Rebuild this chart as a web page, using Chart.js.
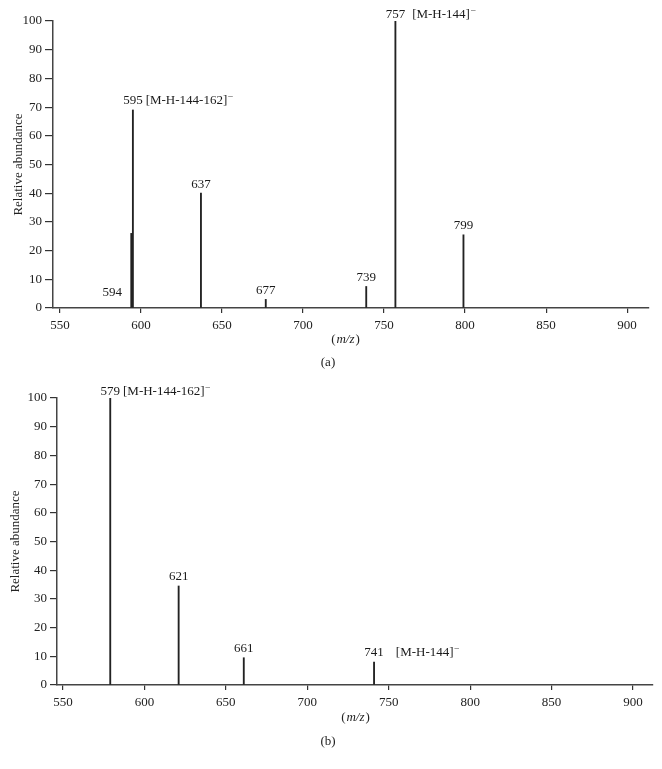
<!DOCTYPE html>
<html>
<head>
<meta charset="utf-8">
<script src="https://cdn.jsdelivr.net/npm/chart.js@4.4.0/dist/chart.umd.min.js"></script>
<style>
  html, body { margin: 0; padding: 0; background: #fff; }
  #wrap { position: relative; width: 662px; height: 769px; }
  canvas { position: absolute; left: 0; }
  #chartA { top: 0; }
  #chartB { top: 380px; }
</style>
</head>
<body>
<div id="wrap">
  <canvas id="chartA" width="662" height="380"></canvas>
  <canvas id="chartB" width="662" height="389"></canvas>
</div>
<script>
// panel (a)
var mzA = [594, 595, 637, 677, 739, 757, 799];
var abundA = [26, 69, 40, 3, 7.5, 100, 25.5];
var ionA = ['', '[M-H-144-162]', '', '', '', '[M-H-144]', ''];

// panel (b)
var mzB = [579, 621, 661, 741];
var abundB = [100, 34.5, 9.5, 8];
var ionB = ['[M-H-144-162]', '', '', '[M-H-144]'];

var xTicks = [550, 600, 650, 700, 750, 800, 850, 900];
var yTicks = [0, 10, 20, 30, 40, 50, 60, 70, 80, 90, 100];

var SERIF = '"Liberation Serif", "Times New Roman", serif';
Chart.defaults.font.family = SERIF;
Chart.defaults.font.size = 13;
Chart.defaults.color = '#222';

// peak numbers above each stem, ion names beside them
var peakLabels = {
    id: 'peakLabels',
    afterDatasetsDraw: function (chart, args, opts) {
        var ctx = chart.ctx, xs = chart.scales.x, ys = chart.scales.y;
        var pts = chart.data.datasets[0].data;
        ctx.save();
        ctx.fillStyle = '#1a1a1a';
        ctx.textBaseline = 'middle';
        pts.forEach(function (p, i) {
            var px = xs.getPixelForValue(p.x), py = ys.getPixelForValue(p.y);
            var txt = String(p.x);
            ctx.font = '13px ' + SERIF;
            var w = ctx.measureText(txt).width;
            var cx = px, cy = Math.max(py - 9, chart.chartArea.top - 6);
            if (opts.beside.indexOf(p.x) >= 0) {
                cx = px - 19;
                cy = ys.getPixelForValue(0) - 15;
            }
            ctx.textAlign = 'center';
            ctx.fillText(txt, cx, cy);
            var ion = opts.ions[i];
            if (ion) {
                var ix = cx + w / 2 + opts.gap[i];
                ctx.textAlign = 'left';
                ctx.fillText(ion, ix, cy);
                var iw = ctx.measureText(ion).width;
                ctx.font = '9px ' + SERIF;
                ctx.fillText('\u2013', ix + iw + 1, cy - 5);
            }
        });
        ctx.restore();
    }
};

// "(m/z)" axis name and panel caption
var captions = {
    id: 'captions',
    afterDraw: function (chart, args, opts) {
        var ctx = chart.ctx;
        ctx.save();
        ctx.fillStyle = '#222';
        ctx.textBaseline = 'middle';
        ctx.textAlign = 'left';
        var parts = [['(', ''], ['m/z', 'italic '], [')', '']];
        var total = 0;
        parts.forEach(function (s) {
            ctx.font = s[1] + '13px ' + SERIF;
            total += ctx.measureText(s[0]).width + 1;
        });
        var x = opts.mzX - total / 2;
        parts.forEach(function (s) {
            ctx.font = s[1] + '13px ' + SERIF;
            ctx.fillText(s[0], x, opts.mzY);
            x += ctx.measureText(s[0]).width + 1;
        });
        ctx.font = '13px ' + SERIF;
        ctx.textAlign = 'center';
        ctx.fillText(opts.text, opts.capX, opts.capY);
        ctx.restore();
    }
};

function spectrum(id, mz, abund, ions, look) {
    var ctx = document.getElementById(id).getContext('2d');
    return new Chart(ctx, {
        type: 'bar',
        data: {
            datasets: [{
                data: mz.map(function (m, i) { return {x: m, y: abund[i]}; }),
                backgroundColor: '#222',
                borderWidth: 0,
                barThickness: 1.2
            }]
        },
        options: {
            responsive: false,
            animation: false,
            layout: {padding: look.padding},
            plugins: {
                legend: {display: false},
                tooltip: {enabled: false},
                peakLabels: {ions: ions, gap: look.gap, beside: look.beside},
                captions: look.captions
            },
            scales: {
                x: {
                    type: 'linear',
                    min: look.xMin,
                    max: look.xMax,
                    offset: false,
                    afterBuildTicks: function (s) { s.ticks = xTicks.map(function (v) { return {value: v}; }); },
                    afterFit: function (s) { s.height = look.xHeight; },
                    grid: {offset: false, drawOnChartArea: false, drawTicks: true, tickLength: 5, color: '#333', lineWidth: 1.2},
                    border: {display: true, color: '#444', width: 1.5},
                    ticks: {padding: 5, maxRotation: 0, autoSkip: false}
                },
                y: {
                    min: 0,
                    max: 100,
                    afterBuildTicks: function (s) { s.ticks = yTicks.map(function (v) { return {value: v}; }); },
                    afterFit: function (s) { s.width = look.yWidth; },
                    grid: {drawOnChartArea: false, drawTicks: true, tickLength: look.yTick, color: '#333', lineWidth: 1.2},
                    border: {display: true, color: '#444', width: 1.5},
                    ticks: {padding: 3},
                    title: {display: true, text: 'Relative abundance', padding: {top: look.titlePad, bottom: 0}}
                }
            }
        },
        plugins: [peakLabels, captions]
    });
}

spectrum('chartA', mzA, abundA, ionA, {
    padding: {top: 21, right: 13, left: 0, bottom: 0},
    xMin: 545.7, xMax: 913.5, xHeight: 72, yWidth: 53, yTick: 8, titlePad: 11,
    gap: [0, 3, 0, 0, 0, 7, 0], beside: [594],
    captions: {mzX: 346, mzY: 340, text: '(a)', capX: 328, capY: 363}
});

spectrum('chartB', mzB, abundB, ionB, {
    padding: {top: 18, right: 9, left: 0, bottom: 0},
    xMin: 546.3, xMax: 912.3, xHeight: 84, yWidth: 57, yTick: 7, titlePad: 8,
    gap: [3, 0, 0, 12], beside: [],
    captions: {mzX: 356, mzY: 338, text: '(b)', capX: 328, capY: 362}
});
</script>
</body>
</html>
